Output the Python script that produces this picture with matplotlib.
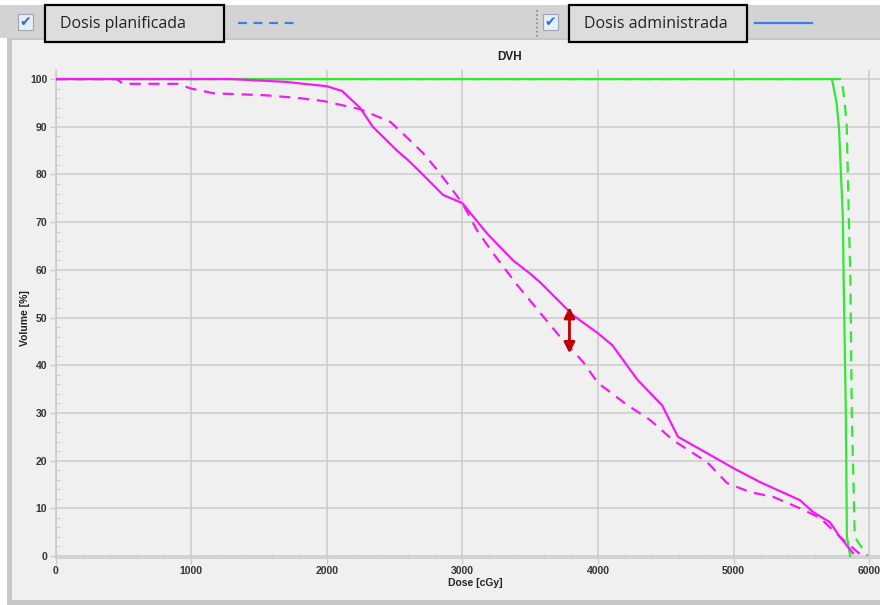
import matplotlib.pyplot as plt
from matplotlib.patches import Rectangle
from matplotlib.lines import Line2D

# dose-volume histogram, planned vs delivered
dose_adm = [0, 1300, 1700, 2000, 2113, 2245, 2340, 2518, 2600, 2690, 2858, 3000, 3180,
            3373, 3500, 3573, 3816, 4000, 4106, 4290, 4473, 4590, 4827, 5000, 5195,
            5490, 5587, 5710, 5785, 5880]
vol_adm = [100, 100, 99.4, 98.5, 97.5, 94, 90, 85, 83, 80.5, 75.7, 74, 67.7,
           62, 59.2, 57.4, 50.5, 46.7, 44.2, 37, 31.6, 25, 21.2, 18.4, 15.5,
           11.7, 9.2, 7.1, 4, 0.6]

dose_plan = [0, 450, 500, 900, 1000, 1170, 1550, 1800, 1974, 2245, 2470, 2590, 2710,
             2813, 2910, 3000, 3108, 3226, 3400, 3573, 3720, 3890, 4000, 4214, 4385,
             4553, 4804, 4952, 5121, 5292, 5490, 5637, 5785, 5932]
vol_plan = [100, 100, 99, 99, 98, 97, 96.6, 96, 95.4, 93.7, 91, 87.8, 84.5,
            81, 77.4, 74, 68.3, 63.5, 57, 51, 46, 40.7, 36.3, 31.7, 28.5,
            24.3, 19.7, 15.3, 13.4, 12.4, 10, 8, 4, 0.4]

dose_ptv_adm = [0, 5726, 5760, 5777, 5806, 5812, 5828, 5836, 5860]
vol_ptv_adm = [100, 100, 95, 90, 71, 58, 30, 4, 0]

dose_ptv_plan = [0, 5798, 5820, 5835, 5850, 5862, 5872, 5894, 5940, 5990]
vol_ptv_plan = [100, 100, 95, 90, 71, 58, 30, 4, 2, 0]

arrow_dose = 3790
arrow_vols = (52.2, 42.5)

x_ticks = [0, 1000, 2000, 3000, 4000, 5000, 6000]
y_ticks = list(range(0, 101, 10))

MAGENTA = "#f21cf2"
GREEN = "#33e833"
GRID = "#cbcbcb"

W, H = 880, 605
fig = plt.figure(figsize=(W / 100, H / 100), dpi=100)
fig.patch.set_facecolor("white")


def px(x, y):
    return x / W, 1 - y / H


def box(x0, y0, x1, y1, zorder=-1, **kw):
    fig.patches.append(Rectangle((x0 / W, 1 - y1 / H), (x1 - x0) / W, (y1 - y0) / H,
                                 transform=fig.transFigure, zorder=zorder, **kw))


def seg(x0, y0, x1, y1, **kw):
    fig.lines.append(Line2D([x0 / W, x1 / W], [1 - y0 / H, 1 - y1 / H],
                            transform=fig.transFigure, zorder=-1, **kw))


# toolbar and chart panel
box(0, 5, W, 38, zorder=-3, facecolor="#d3d3d3", edgecolor="none")
box(7, 38, W, 605, zorder=-3, facecolor="#c8c8c8", edgecolor="none")
box(12, 40, W, 600, zorder=-2, facecolor="#f0f0f0", edgecolor="none")

for cx, label, x0, x1, ls, lx in [(18, "Dosis planificada", 45, 224, (0, (4, 3)), (238, 298)),
                                  (543, "Dosis administrada", 569, 747, "-", (755, 812))]:
    box(cx, 14, cx + 15, 30, facecolor="#e8eef8", edgecolor="#9aa6b8", lw=0.8)
    fig.text(*px(cx + 7.5, 22.5), "\u2714", color="#2a6fd6", fontsize=10,
             ha="center", va="center", family="DejaVu Sans")
    box(x0, 5, x1, 42, facecolor="#dddddd", edgecolor="black", lw=1.6)
    fig.text(*px(x0 + 15, 23.5), label, fontsize=11.5, family="Open Sans",
             color="#222222", ha="left", va="center")
    seg(lx[0], 23, lx[1], 23, color="#3a7ee8", lw=1.6, linestyle=ls)

seg(537, 10, 537, 38, color="#888888", lw=1.2, linestyle=(0, (1, 1.5)))

ax = fig.add_axes([55.5 / W, 47 / H, 1 - 55.5 / W, (558 - 70) / H])
ax.set_facecolor("#f0f0f0")

ax.plot(dose_ptv_plan, vol_ptv_plan, color=GREEN, lw=1.6, linestyle=(0, (5, 3.5)), zorder=3)
ax.plot(dose_ptv_adm, vol_ptv_adm, color=GREEN, lw=1.6, zorder=3)
ax.plot(dose_plan, vol_plan, color=MAGENTA, lw=1.6, linestyle=(0, (5, 3.5)), zorder=3)
ax.plot(dose_adm, vol_adm, color=MAGENTA, lw=1.6, zorder=3)

ax.annotate("", xy=(arrow_dose, arrow_vols[0]), xytext=(arrow_dose, arrow_vols[1]),
            arrowprops=dict(arrowstyle="<|-|>", color="#c00000", lw=2,
                            mutation_scale=16, shrinkA=0, shrinkB=0), zorder=4)

ax.set_xlim(0, 6080)
ax.set_ylim(-0.42, 101.9)
ax.set_xticks(x_ticks)
ax.set_yticks(y_ticks)
ax.set_xticks(range(0, 6001, 200), minor=True)
ax.set_yticks(range(0, 101, 2), minor=True)
ax.grid(True, which="major", color=GRID, lw=1.1)
ax.set_axisbelow(True)

for s in ["top", "right"]:
    ax.spines[s].set_visible(False)
for s in ["left", "bottom"]:
    ax.spines[s].set_color(GRID)
    ax.spines[s].set_linewidth(1.1)

ax.tick_params(which="major", length=4, color=GRID, width=1, pad=2,
               labelsize=7.5, labelcolor="#333333")
ax.tick_params(which="minor", direction="in", length=3, color="#d0d0d0", width=0.8)
for lab in ax.get_xticklabels() + ax.get_yticklabels():
    lab.set_family("Liberation Sans")
    lab.set_fontweight("bold")

fig.text(*px(25, 318), "Volume [%]", rotation=90, fontsize=7.5, fontweight="bold",
         family="Liberation Sans", color="#222222", ha="center", va="center")
fig.text(*px(475, 583), "Dose [cGy]", fontsize=7.5, fontweight="bold",
         family="Liberation Sans", color="#222222", ha="center", va="center")
fig.text(*px(510, 57), "DVH", fontsize=8.5, fontweight="bold",
         family="Liberation Sans", color="#222222", ha="center", va="center")

fig.savefig("out.png", dpi=100)
